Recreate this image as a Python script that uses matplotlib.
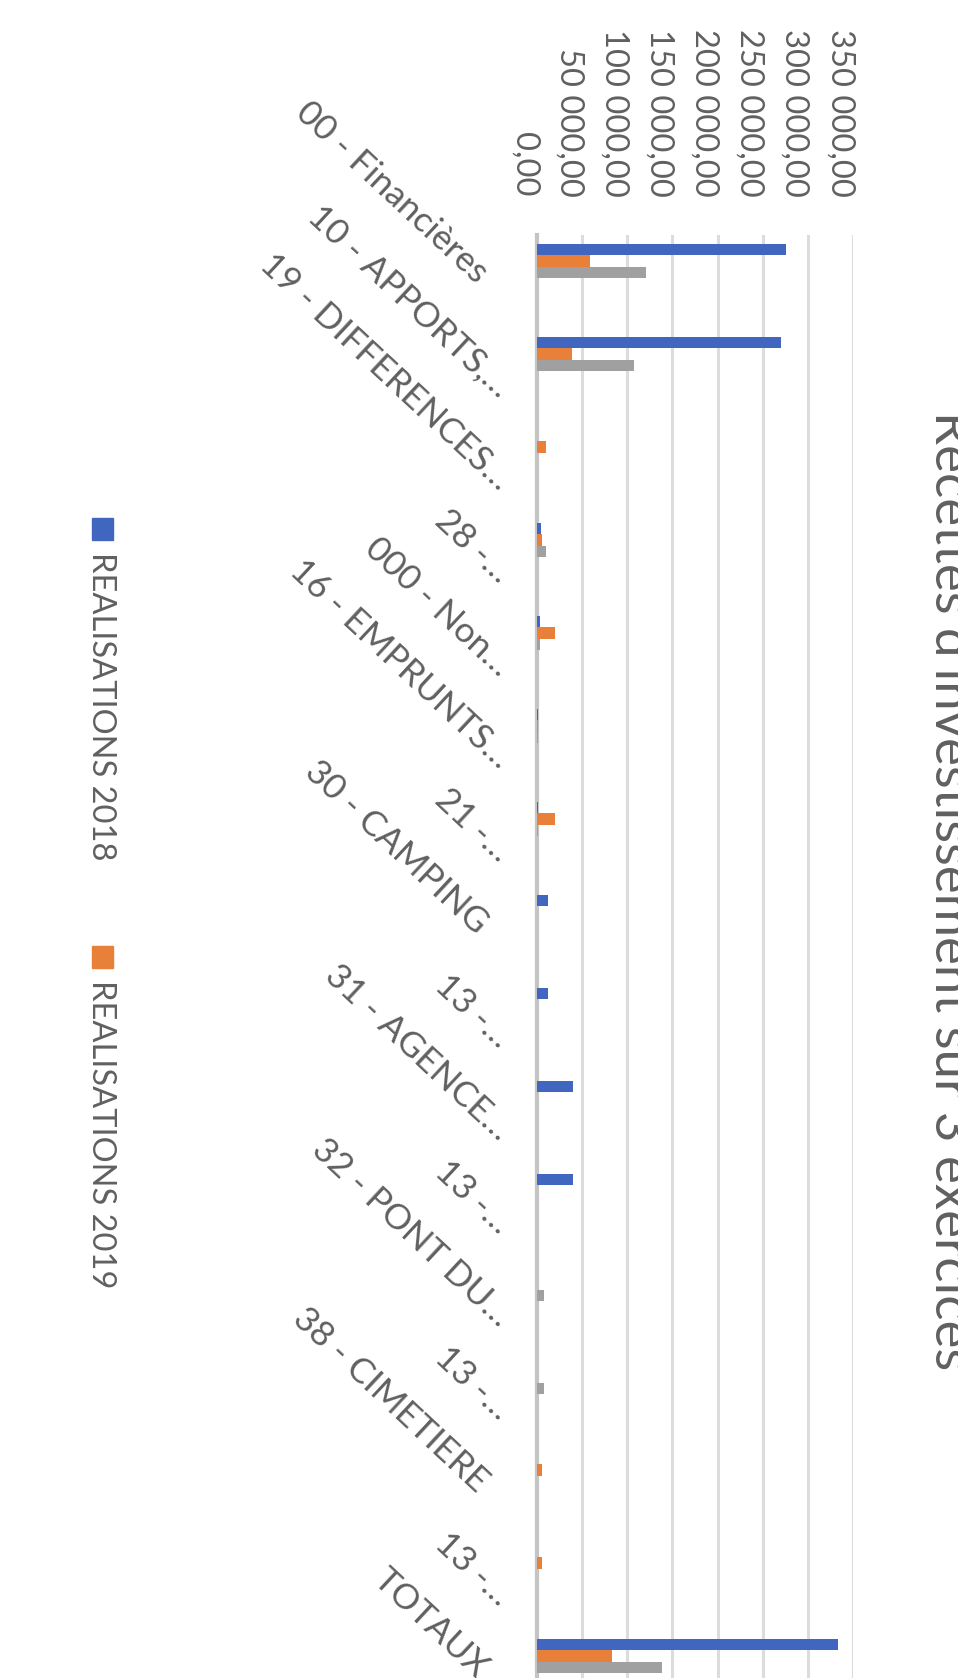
import matplotlib
matplotlib.use('Agg')
import matplotlib.pyplot as plt
import matplotlib.transforms as mtransforms
from matplotlib.patches import Rectangle
import numpy as np

plt.rcParams['font.family'] = ['Lato', 'DejaVu Sans']

# categories (chart is drawn turned a quarter turn clockwise)
categories = ["00 - Financières", "10 - APPORTS,…", "19 - DIFFERENCES…", "28 -…",
              "000 - Non…", "16 - EMPRUNTS…", "21 -…", "30 - CAMPING", "13 -…",
              "31 - AGENCE…", "13 -…", "32 - PONT DU…", "13 -…", "38 - CIMETIERE",
              "13 -…", "TOTAUX"]

real_2018 = [276000, 270000, 0, 4000, 3000, 800, 1500, 12000, 12000,
             40000, 40000, 0, 0, 0, 0, 333000]
real_2019 = [59000, 39000, 10000, 6000, 20000, 600, 20000, 0, 0,
             0, 0, 0, 0, 5000, 5000, 83500]
third_year = [121000, 107000, 0, 10000, 3000, 800, 1500, 0, 0,
              0, 0, 8000, 8000, 0, 0, 138000]

value_ticks = [0, 50000, 100000, 150000, 200000, 250000, 300000, 350000]
tick_labels = ["0,00", "50 000,00", "100 000,00", "150 000,00", "200 000,00",
               "250 000,00", "300 000,00", "350 000,00"]
legend_names = ["REALISATIONS 2018", "REALISATIONS 2019"]
title = "Recettes d'investissement sur 3 exercices"

col_blue = '#4166c0'
col_orange = '#e8803a'
col_gray = '#a0a0a0'
txt_col = '#606060'

W, H = 958, 1678
fig = plt.figure(figsize=(W / 100, H / 100), dpi=100)
fig.patch.set_facecolor('white')

# plot area in pixels
x0, x1 = 537, 853
y_top, y_bot = 235, 1702.5
ax = fig.add_axes([x0 / W, 1 - y_bot / H, (x1 - x0) / W, (y_bot - y_top) / H])

y = np.arange(len(categories))
bh = 0.12
ax.barh(y - bh, real_2018, height=bh, color=col_blue, zorder=3)
ax.barh(y, real_2019, height=bh, color=col_orange, zorder=3)
ax.barh(y + bh, third_year, height=bh, color=col_gray, zorder=3)

ax.set_xlim(0, 350000)
ax.set_ylim(len(categories) - 0.5, -0.28)
for s in ['top', 'right', 'bottom']:
    ax.spines[s].set_visible(False)
ax.spines['left'].set_color('#c4c4c4')
ax.spines['left'].set_linewidth(3)
ax.set_xticks(value_ticks)
ax.xaxis.grid(True, color='#dcdcdc', lw=2.2, zorder=0)
ax.set_axisbelow(True)
ax.tick_params(axis='both', length=0, labelbottom=False, labelleft=False)

# value labels above the plot area
for v, lab in zip(value_ticks, tick_labels):
    tr = mtransforms.offset_copy(ax.get_xaxis_transform(), fig=fig, x=-22, y=38, units='dots')
    ax.text(v, 1.0, lab, transform=tr, rotation=-90, rotation_mode='anchor',
            ha='right', va='baseline', fontsize=23.5, color=txt_col, clip_on=False)

# category labels, slanted
for i, lab in enumerate(categories):
    if lab.endswith('…'):
        dx, dy = -31, -37
    else:
        dx, dy = -54, -16
    tr = mtransforms.offset_copy(ax.get_yaxis_transform(), fig=fig, x=dx, y=dy, units='dots')
    ax.text(0, i, lab, transform=tr, rotation=-43, rotation_mode='anchor',
            ha='right', va='center', fontsize=25.5, color=txt_col, clip_on=False)

# legend on the left side
leg_cols = [col_blue, col_orange]
for k, (name, c) in enumerate(zip(legend_names, leg_cols)):
    top = 518 + 428 * k
    fig.add_artist(Rectangle((92 / W, 1 - (top + 22) / H), 21 / W, 22 / H,
                             transform=fig.transFigure, color=c))
    fig.text(92 / W, 1 - (top + 34) / H, name, rotation=-90, rotation_mode='anchor',
             ha='left', va='baseline', fontsize=23.5, color=txt_col)

# title, running down the right edge
fig.text(935 / W, 1 - 891 / H, title, rotation=-90, rotation_mode='anchor',
         ha='center', va='baseline', fontsize=38, color=txt_col)

fig.savefig('out.png', dpi=100, facecolor='white')
